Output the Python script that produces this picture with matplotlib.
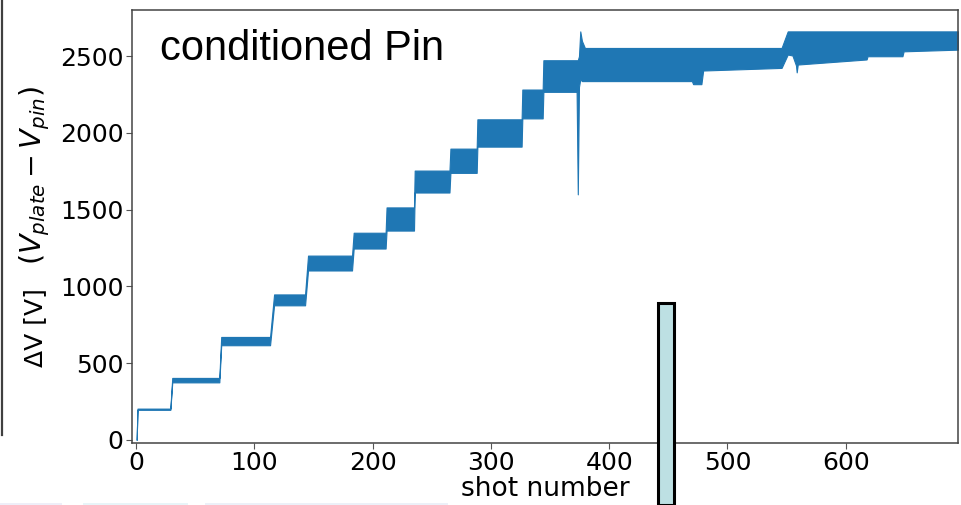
import numpy as np
import matplotlib
matplotlib.use('Agg')
import matplotlib.pyplot as plt
from matplotlib.patches import Rectangle
from matplotlib.lines import Line2D

BLUE = '#1f77b4'

# envelope of the shot-to-shot voltage band (lower / upper edge)
shots = [0.5, 1.2, 29.0, 30.6, 70.4, 72.0, 113.3, 116.7, 142.9, 145.4,
         182.6, 184.0, 211.0, 211.8, 235.0, 235.6, 265.0, 265.8, 288.0,
         288.6, 326.0, 326.6, 343.8, 344.4, 372.5, 373.5, 374.5, 375.6,
         377.0, 379.5, 470.0, 471.0, 478.0, 479.5, 545.8, 551.0, 555.0,
         558.0, 558.6, 559.5, 617.7, 618.5, 648.0, 649.0, 695.0]
v_low = [0, 196, 196, 375, 375, 617, 617, 877, 877, 1104,
         1104, 1247, 1247, 1364, 1364, 1612, 1612, 1740, 1740,
         1911, 1911, 2095, 2095, 2268, 2268, 1600, 2300, 2350,
         2338, 2338, 2338, 2318, 2318, 2407, 2424, 2511, 2505,
         2440, 2395, 2446, 2479, 2500, 2500, 2532, 2543]
v_high = [0, 204, 204, 404, 404, 671, 671, 948, 948, 1201,
          1201, 1350, 1350, 1515, 1515, 1755, 1755, 1898, 1898,
          2089, 2089, 2283, 2283, 2474, 2474, 2474, 2500, 2662,
          2600, 2554, 2554, 2554, 2554, 2554, 2554, 2662, 2662,
          2662, 2662, 2662, 2662, 2662, 2662, 2662, 2662]

x_ticks = [0, 100, 200, 300, 400, 500, 600]
y_ticks = [0, 500, 1000, 1500, 2000, 2500]

fig = plt.figure(figsize=(9.61, 5.05), dpi=100, facecolor='white')
ax = fig.add_axes([0.1374, 0.1228, 0.8595, 0.857])

ax.fill_between(shots, v_low, v_high, color=BLUE, lw=0.8, edgecolor=BLUE)

ax.set_xlim(-3.4, 695)
ax.set_ylim(-20, 2800)
ax.set_xticks(x_ticks)
ax.set_yticks(y_ticks)
ax.tick_params(labelsize=18, length=4, width=0.8, color='#555555', pad=2)
for s in ax.spines.values():
    s.set_color('#444444')
    s.set_linewidth(1.1)

ax.set_xlabel('shot number', fontsize=19, labelpad=0)
ax.xaxis.set_label_coords(0.5, -0.076)

# y label in two pieces: the math part is drawn a bit larger, as in the slide
ax.text(-0.1174, 0.175, 'ΔV [V]', rotation=90, fontsize=18,
        transform=ax.transAxes, ha='center', va='bottom')
ax.text(-0.1174, 0.825, r'($V_{plate} - V_{pin}$)', rotation=90, fontsize=20.5,
        transform=ax.transAxes, ha='center', va='top')

ax.text(0.034, 0.91, 'conditioned Pin', transform=ax.transAxes,
        fontsize=30, family='Liberation Sans', va='center', ha='left')

# slide leftovers around the chart
fig.add_artist(Line2D([2 / 961, 2 / 961], [1.0, 1 - 435 / 505],
                      color='#404040', lw=1.6, transform=fig.transFigure))
fig.add_artist(Rectangle((657.5 / 961, 0), 16.5 / 961, (505 - 302.5) / 505,
                         transform=fig.transFigure, facecolor='#bde0e3',
                         edgecolor='black', lw=2.2, zorder=10))
for x0, x1, c in [(0, 62, '#eeeef8'), (83, 188, '#e8f4f8'), (205, 448, '#ecf0f8')]:
    fig.add_artist(Rectangle((x0 / 961, 0), (x1 - x0) / 961, 2.5 / 505,
                             transform=fig.transFigure, facecolor=c,
                             edgecolor='none'))

fig.savefig('out.png', dpi=100, facecolor='white')
plt.close(fig)
